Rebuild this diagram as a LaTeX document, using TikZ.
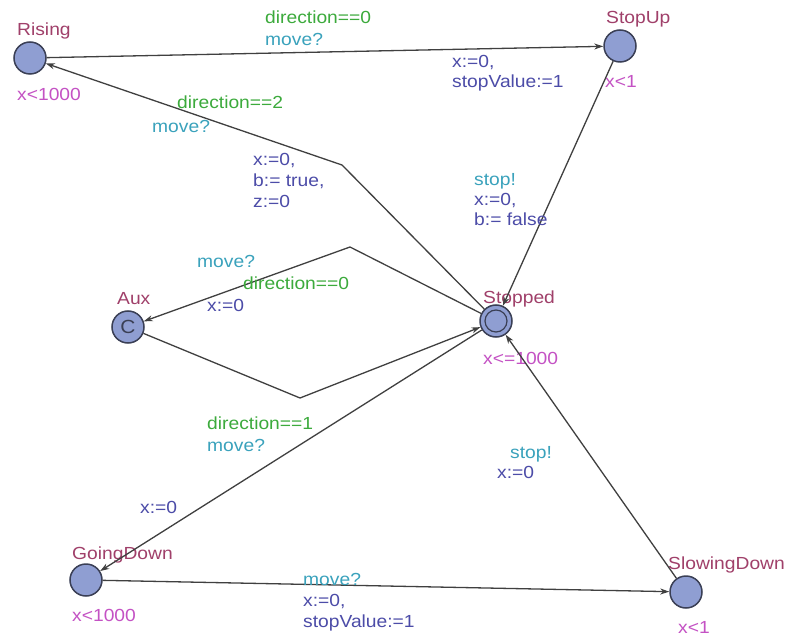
\documentclass[tikz,border=0pt]{standalone}
\usepackage{fontspec}
\setmainfont{Liberation Sans}[FakeStretch=1.1]
\usetikzlibrary{arrows.meta}
\definecolor{locfill}{HTML}{8F9ED2}
\definecolor{locdraw}{HTML}{3A3F55}
\definecolor{cname}{HTML}{A0406A}
\definecolor{cinv}{HTML}{C452C4}
\definecolor{cguard}{HTML}{3CAA3C}
\definecolor{csync}{HTML}{3AA2BC}
\definecolor{cupd}{HTML}{4C4CA8}
\definecolor{cedge}{HTML}{404040}
\tikzset{
  loc/.style={circle, minimum size=32pt, inner sep=0pt, fill=locfill, draw=locdraw, line width=1.5pt},
  lbl/.style={anchor=base west, inner sep=0pt, font=\fontsize{17.5}{21}\selectfont},
  nm/.style={lbl, text=cname},
  inv/.style={lbl, text=cinv},
  grd/.style={lbl, text=cguard},
  syn/.style={lbl, text=csync},
  upd/.style={lbl, text=cupd},
  edge/.style={draw=cedge, line width=1.3pt, -{Stealth[length=9pt,width=6pt]}},
}
\begin{document}
\begin{tikzpicture}[x=1pt,y=-1pt]
\useasboundingbox[fill=white] (0,0) rectangle (792,636);
% locations
\node[loc] (rising) at (30,58) {};
\node[loc] (stopup) at (620,46) {};
\node[loc, font=\fontsize{19}{20}\selectfont, text=locdraw] (aux) at (128,327) {C};
\node[loc] (stopped) at (496,321) {};
\draw[locdraw, line width=1.2pt] (stopped.center) circle (11);
\node[loc] (goingdown) at (86,580) {};
\node[loc] (slowingdown) at (686,592) {};
% names and invariants
\node[nm] (nrising) at (17,36) {Rising};
\node[inv] (irising) at (17,101) {x<1000};
\node[nm] (nstopup) at (606,24) {StopUp};
\node[inv] (istopup) at (605,88) {x<1};
\node[nm] (naux) at (117,304) {Aux};
\node[nm] (nstopped) at (483,303) {Stopped};
\node[inv] (istopped) at (483,364) {x<=1000};
\node[nm] (ngoingdown) at (72,559) {GoingDown};
\node[inv] (igoingdown) at (72,621) {x<1000};
\node[nm] (nslowingdown) at (668,569) {SlowingDown};
\node[inv] (islowingdown) at (678,633) {x<1};
% bend points
\coordinate (b1) at (342,165);
\coordinate (b2) at (350,247);
\coordinate (b3) at (300,398);
% edges
\draw[edge] (rising) -- (stopup);
\draw[edge] (stopped) -- (b1) -- (rising);
\draw[edge] (stopup) -- (stopped);
\draw[edge] (stopped) -- (b2) -- (aux);
\draw[edge] (aux) -- (b3) -- (stopped);
\draw[edge] (stopped) -- (goingdown);
\draw[edge] (goingdown) -- (slowingdown);
\draw[edge] (slowingdown) -- (stopped);
% edge labels
\node[grd] (g1) at (265,24) {direction==0};
\node[syn] (s1) at (265,46) {move?};
\node[upd] (u1a) at (452,68) {x:=0,};
\node[upd] (u1b) at (452,88) {stopValue:=1};
\node[grd] (g2) at (177,109) {direction==2};
\node[syn] (s2) at (152,133) {move?};
\node[upd] (u2a) at (253,166) {x:=0,};
\node[upd] (u2b) at (253,187) {b:= true,};
\node[upd] (u2c) at (253,208) {z:=0};
\node[syn] (s3) at (474,186) {stop!};
\node[upd] (u3a) at (474,206) {x:=0,};
\node[upd] (u3b) at (474,226) {b:= false};
\node[syn] (s4) at (197,268) {move?};
\node[grd] (g4) at (243,289) {direction==0};
\node[upd] (u4) at (207,311) {x:=0};
\node[grd] (g6) at (207,429) {direction==1};
\node[syn] (s6) at (207,451) {move?};
\node[upd] (u6) at (140,513) {x:=0};
\node[syn] (s8) at (510,458) {stop!};
\node[upd] (u8) at (497,478) {x:=0};
\node[syn] (s7) at (303,585) {move?};
\node[upd] (u7a) at (303,606) {x:=0,};
\node[upd] (u7b) at (303,627) {stopValue:=1};
\end{tikzpicture}
\end{document}
